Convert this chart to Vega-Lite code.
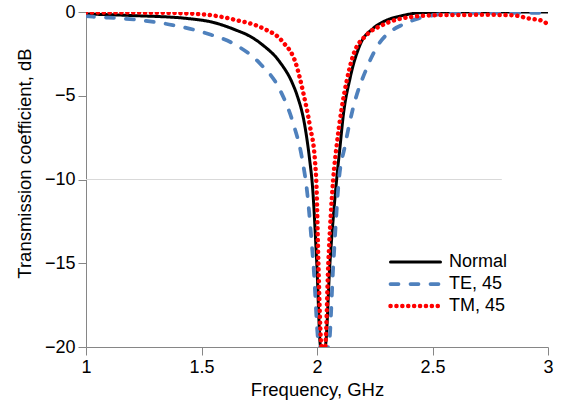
{
  "$schema": "https://vega.github.io/schema/vega-lite/v6.json",
  "width": 462,
  "height": 335,
  "autosize": "none",
  "padding": {"left": 86, "top": 12, "right": 19, "bottom": 66},
  "background": "white",
  "config": {
    "view": {"stroke": null},
    "font": "Liberation Sans",
    "axis": {
      "grid": false,
      "domainColor": "#868686",
      "tickColor": "#868686",
      "tickSize": 8,
      "labelFontSize": 18,
      "titleFontSize": 18.5,
      "labelColor": "#000000",
      "titleColor": "#000000",
      "titleFontWeight": "normal",
      "labelPadding": 3,
      "labelFlush": false,
      "labelOverlap": false,
      "labelFont": "Liberation Sans",
      "titleFont": "Liberation Sans"
    },
    "legend": {
      "title": null,
      "orient": "none",
      "legendX": 302,
      "legendY": 241,
      "symbolType": "stroke",
      "symbolSize": 2500,
      "clipHeight": 18,
      "labelFontSize": 18,
      "labelColor": "#000000",
      "labelFont": "Liberation Sans",
      "rowPadding": 4,
      "labelOffset": 6
    }
  },
  "layer": [
    {
      "data": {"values": [{"f": 1, "f2": 2.8, "dB": -10}]},
      "mark": {"type": "rule", "color": "#d9d9d9", "strokeWidth": 1},
      "encoding": {
        "x": {"field": "f", "type": "quantitative", "scale": {"domain": [1, 3]}, "axis": {"values": [1, 1.5, 2, 2.5, 3], "format": "~g", "title": "Frequency, GHz", "titlePadding": 4}},
        "x2": {"field": "f2"},
        "y": {"field": "dB", "type": "quantitative", "scale": {"domain": [-20, 0]}, "axis": {"values": [0, -5, -10, -15, -20], "title": "Transmission coefficient, dB", "titlePadding": 10, "titleY": 151}}
      }
    },
    {
      "data": {"values": [
        {"s": "Normal", "f": 1.0, "dB": -0.12},
        {"s": "Normal", "f": 1.216, "dB": -0.22},
        {"s": "Normal", "f": 1.433, "dB": -0.38},
        {"s": "Normal", "f": 1.55, "dB": -0.62},
        {"s": "Normal", "f": 1.649, "dB": -1.08},
        {"s": "Normal", "f": 1.71, "dB": -1.45},
        {"s": "Normal", "f": 1.765, "dB": -1.97},
        {"s": "Normal", "f": 1.837, "dB": -2.95},
        {"s": "Normal", "f": 1.895, "dB": -4.3},
        {"s": "Normal", "f": 1.912, "dB": -4.9},
        {"s": "Normal", "f": 1.948, "dB": -6.85},
        {"s": "Normal", "f": 1.968, "dB": -8.8},
        {"s": "Normal", "f": 1.981, "dB": -10.5},
        {"s": "Normal", "f": 1.999, "dB": -15},
        {"s": "Normal", "f": 2.016, "dB": -20},
        {"s": "Normal", "f": 2.035, "dB": -20},
        {"s": "Normal", "f": 2.056, "dB": -15},
        {"s": "Normal", "f": 2.085, "dB": -10},
        {"s": "Normal", "f": 2.1, "dB": -8},
        {"s": "Normal", "f": 2.114, "dB": -6.15},
        {"s": "Normal", "f": 2.143, "dB": -3.96},
        {"s": "Normal", "f": 2.186, "dB": -1.97},
        {"s": "Normal", "f": 2.244, "dB": -0.97},
        {"s": "Normal", "f": 2.3, "dB": -0.5},
        {"s": "Normal", "f": 2.36, "dB": -0.25},
        {"s": "Normal", "f": 2.446, "dB": -0.05},
        {"s": "Normal", "f": 2.6, "dB": 0},
        {"s": "Normal", "f": 3.0, "dB": 0},
        {"s": "TE, 45", "f": 1.0, "dB": -0.25},
        {"s": "TE, 45", "f": 1.03, "dB": -0.28},
        {"s": "TE, 45", "f": 1.23, "dB": -0.48},
        {"s": "TE, 45", "f": 1.375, "dB": -0.78},
        {"s": "TE, 45", "f": 1.52, "dB": -1.27},
        {"s": "TE, 45", "f": 1.649, "dB": -1.97},
        {"s": "TE, 45", "f": 1.753, "dB": -3.07},
        {"s": "TE, 45", "f": 1.84, "dB": -4.66},
        {"s": "TE, 45", "f": 1.897, "dB": -6.65},
        {"s": "TE, 45", "f": 1.934, "dB": -8.64},
        {"s": "TE, 45", "f": 1.958, "dB": -10.83},
        {"s": "TE, 45", "f": 1.984, "dB": -15},
        {"s": "TE, 45", "f": 2.01, "dB": -20},
        {"s": "TE, 45", "f": 2.05, "dB": -20},
        {"s": "TE, 45", "f": 2.071, "dB": -15},
        {"s": "TE, 45", "f": 2.095, "dB": -10},
        {"s": "TE, 45", "f": 2.121, "dB": -8},
        {"s": "TE, 45", "f": 2.155, "dB": -5.8},
        {"s": "TE, 45", "f": 2.215, "dB": -3.36},
        {"s": "TE, 45", "f": 2.273, "dB": -1.8},
        {"s": "TE, 45", "f": 2.31, "dB": -1.25},
        {"s": "TE, 45", "f": 2.367, "dB": -0.78},
        {"s": "TE, 45", "f": 2.44, "dB": -0.38},
        {"s": "TE, 45", "f": 2.51, "dB": -0.18},
        {"s": "TE, 45", "f": 2.58, "dB": -0.06},
        {"s": "TE, 45", "f": 3.0, "dB": -0.05},
        {"s": "TM, 45", "f": 1.0, "dB": -0.03},
        {"s": "TM, 45", "f": 1.3, "dB": -0.04},
        {"s": "TM, 45", "f": 1.505, "dB": -0.14},
        {"s": "TM, 45", "f": 1.649, "dB": -0.48},
        {"s": "TM, 45", "f": 1.765, "dB": -0.97},
        {"s": "TM, 45", "f": 1.851, "dB": -1.77},
        {"s": "TM, 45", "f": 1.909, "dB": -3.1},
        {"s": "TM, 45", "f": 1.941, "dB": -4.85},
        {"s": "TM, 45", "f": 1.97, "dB": -6.85},
        {"s": "TM, 45", "f": 1.991, "dB": -8.84},
        {"s": "TM, 45", "f": 1.998, "dB": -10.5},
        {"s": "TM, 45", "f": 2.006, "dB": -15},
        {"s": "TM, 45", "f": 2.02, "dB": -20},
        {"s": "TM, 45", "f": 2.035, "dB": -20},
        {"s": "TM, 45", "f": 2.049, "dB": -15},
        {"s": "TM, 45", "f": 2.07, "dB": -10},
        {"s": "TM, 45", "f": 2.085, "dB": -8},
        {"s": "TM, 45", "f": 2.107, "dB": -5.75},
        {"s": "TM, 45", "f": 2.128, "dB": -4.16},
        {"s": "TM, 45", "f": 2.157, "dB": -2.57},
        {"s": "TM, 45", "f": 2.215, "dB": -1.37},
        {"s": "TM, 45", "f": 2.28, "dB": -0.8},
        {"s": "TM, 45", "f": 2.416, "dB": -0.28},
        {"s": "TM, 45", "f": 2.55, "dB": -0.18},
        {"s": "TM, 45", "f": 2.75, "dB": -0.17},
        {"s": "TM, 45", "f": 2.85, "dB": -0.2},
        {"s": "TM, 45", "f": 2.915, "dB": -0.38},
        {"s": "TM, 45", "f": 2.98, "dB": -0.55},
        {"s": "TM, 45", "f": 3.0, "dB": -0.78}
      ]},
      "mark": {"type": "line", "interpolate": "monotone", "clip": true, "strokeCap": "round"},
      "encoding": {
        "x": {"field": "f", "type": "quantitative", "scale": {"domain": [1, 3]}, "axis": {"values": [1, 1.5, 2, 2.5, 3], "format": "~g", "title": "Frequency, GHz", "titlePadding": 4}},
        "y": {"field": "dB", "type": "quantitative", "scale": {"domain": [-20, 0]}, "axis": {"values": [0, -5, -10, -15, -20], "title": "Transmission coefficient, dB", "titlePadding": 10, "titleY": 151}},
        "color": {
          "field": "s", "type": "ordinal",
          "scale": {"domain": ["Normal", "TE, 45", "TM, 45"], "range": ["#000000", "#4f81bd", "#ff0000"]},
          "legend": {"encode": {"symbols": {"update": {"strokeCap": {"value": "round"}}}}}
        },
        "strokeDash": {
          "field": "s", "type": "ordinal",
          "scale": {"domain": ["Normal", "TE, 45", "TM, 45"], "range": [[1, 0], [8, 12], [0.1, 5.8]]},
          "legend": {"encode": {"symbols": {"update": {"strokeCap": {"value": "round"}}}}}
        },
        "strokeWidth": {
          "field": "s", "type": "ordinal",
          "scale": {"domain": ["Normal", "TE, 45", "TM, 45"], "range": [3, 4.5, 3.5]},
          "legend": {"encode": {"symbols": {"update": {"strokeCap": {"value": "round"}}}}}
        }
      }
    }
  ]
}
